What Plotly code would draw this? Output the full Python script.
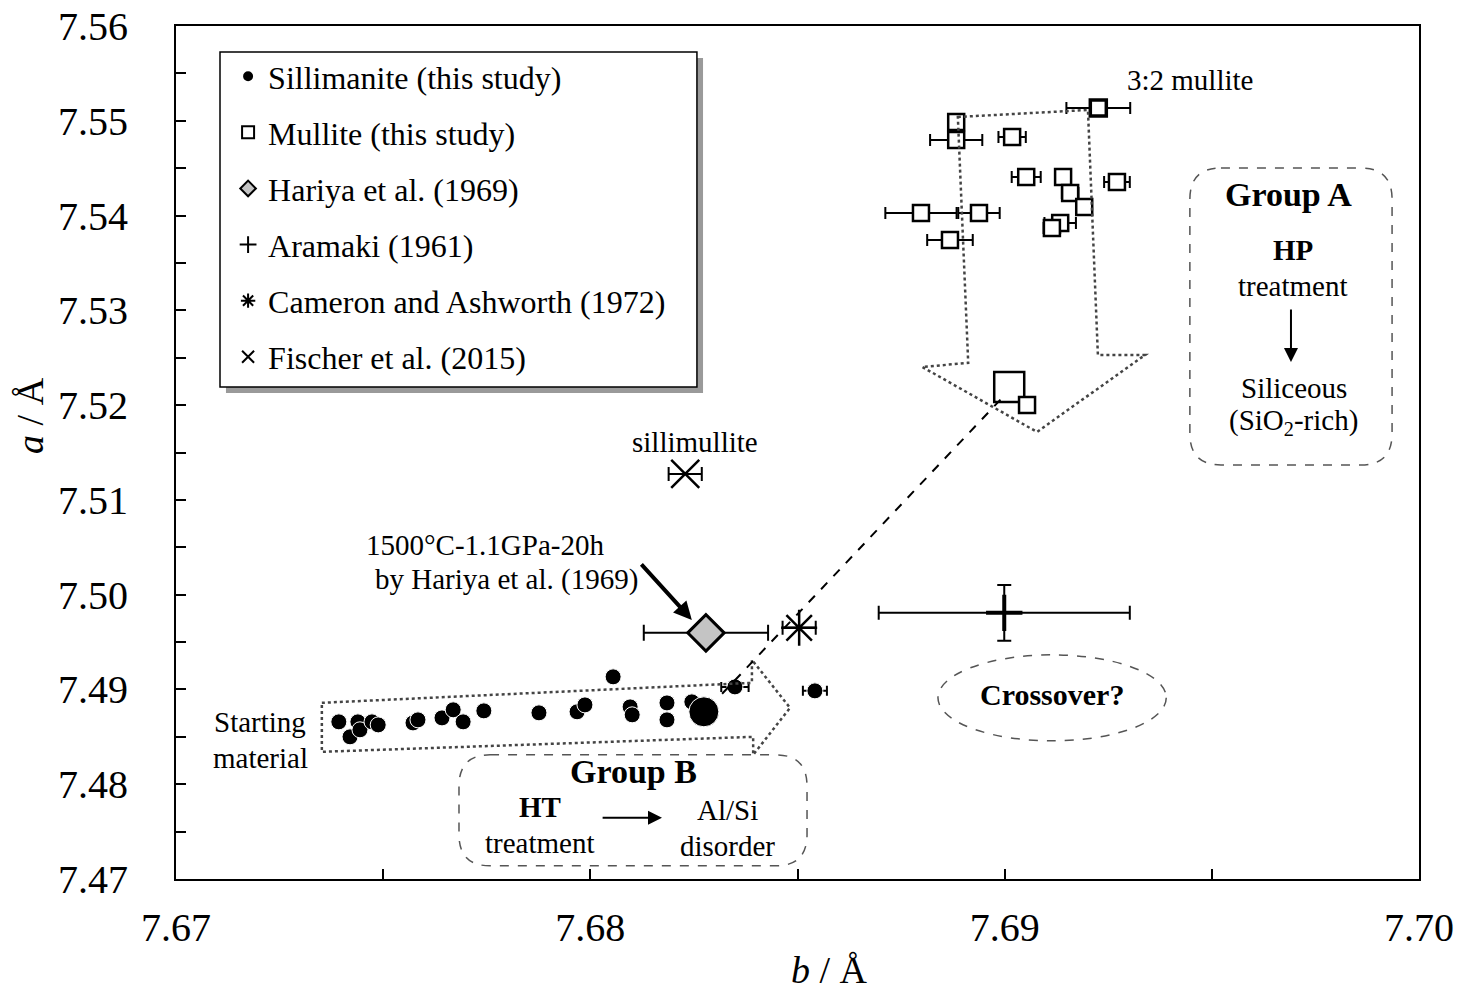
import plotly.graph_objects as go

# ---------------- data ----------------
# Sillimanite (this study): b, a (Å) and b uncertainty (None = not shown)
sill_b = [7.67393, 7.67420, 7.67439, 7.67444, 7.67473, 7.67488, 7.67572, 7.67584,
          7.67642, 7.67669, 7.67693, 7.67743, 7.67876, 7.67968, 7.67987, 7.68055,
          7.68096, 7.68101, 7.68185, 7.68185, 7.68245, 7.68274, 7.68349, 7.68542]
sill_a = [7.48658, 7.48500, 7.48658, 7.48574, 7.48658, 7.48626, 7.48647, 7.48679,
          7.48700, 7.48785, 7.48658, 7.48774, 7.48753, 7.48764, 7.48837, 7.49133,
          7.48816, 7.48732, 7.48858, 7.48679, 7.48869, 7.48764, 7.49027, 7.48985]
sill_err_b = [None] * 22 + [0.00033, 0.00029]
sill_is_start = [False] * 21 + [True, False, False]   # starting material (large symbol)

# Mullite (this study)
mull_b = [7.69226, 7.68883, 7.68883, 7.69018, 7.69052, 7.69141, 7.69158, 7.69192,
          7.69271, 7.68798, 7.68938, 7.68868, 7.69134, 7.69114, 7.69011, 7.69054]
mull_a = [7.55135, 7.54987, 7.54797, 7.54829, 7.54407, 7.54407, 7.54238, 7.54091,
          7.54354, 7.54027, 7.54027, 7.53743, 7.53922, 7.53869, 7.52192, 7.52002]
mull_err_b = [0.00077, 0.00012, 0.00063, 0.00033, 0.00035, None, 0.0002, None,
              0.00031, 0.00086, 0.0005, 0.00055, 0.00038, 0.0002, None, None]
mull_is_32 = [True] + [False] * 15                     # 3:2 mullite reference
mull_is_large = [False] * 14 + [True, False]

# Literature values
hariya_b, hariya_a, hariya_err_b = [7.68279], [7.49597], [0.0015]
aramaki_b, aramaki_a = [7.68999], [7.49808]
aramaki_err_b, aramaki_err_a = [0.00303], [0.00295]
cameron_b, cameron_a, cameron_err_b = [7.68504], [7.49650], [0.0004]
fischer_b, fischer_a, fischer_err_b = [7.68229], [7.51274], [0.0004]

# Axis ticks
x_tickvals = [7.670, 7.675, 7.680, 7.685, 7.690, 7.695, 7.700]
x_ticktext = ["7.67", "", "7.68", "", "7.69", "", "7.70"]
y_tickvals = [7.470, 7.475, 7.480, 7.485, 7.490, 7.495, 7.500, 7.505, 7.510,
              7.515, 7.520, 7.525, 7.530, 7.535, 7.540, 7.545, 7.550, 7.555, 7.560]
y_ticktext = ["7.47", "", "7.48", "", "7.49", "", "7.50", "", "7.51", "",
              "7.52", "", "7.53", "", "7.54", "", "7.55", "", "7.56"]

SERIF = "Liberation Serif, Times New Roman, serif"

fig = go.Figure()

fig.add_trace(go.Scatter(
    x=sill_b, y=sill_a, mode="markers", name="Sillimanite (this study)",
    legendgroup="g1",
    marker=dict(symbol="circle", color="black", opacity=1,
                size=[30 if s else 16 for s in sill_is_start]),
    error_x=dict(type="data", array=sill_err_b, color="black", thickness=2, width=5),
))
fig.add_trace(go.Scatter(
    x=mull_b, y=mull_a, mode="markers", name="Mullite (this study)",
    legendgroup="g2",
    marker=dict(symbol="square", color="white", opacity=1,
                size=[30 if big else 16 for big in mull_is_large],
                line=dict(color="black", width=[3.5 if m else 2.5 for m in mull_is_32])),
    error_x=dict(type="data", array=mull_err_b, color="black", thickness=2, width=6),
))
fig.add_trace(go.Scatter(
    x=hariya_b, y=hariya_a, mode="markers", name="Hariya et al. (1969)",
    legendgroup="g3",
    marker=dict(symbol="diamond", color="#c4c4c4", size=28, opacity=1,
                line=dict(color="black", width=3)),
    error_x=dict(type="data", array=hariya_err_b, color="black", thickness=2, width=8),
))
fig.add_trace(go.Scatter(
    x=aramaki_b, y=aramaki_a, mode="markers", name="Aramaki (1961)",
    legendgroup="g4",
    marker=dict(symbol="cross-thin-open", color="black", size=26, opacity=1,
                line=dict(color="black", width=4)),
    error_x=dict(type="data", array=aramaki_err_b, color="black", thickness=2, width=7),
    error_y=dict(type="data", array=aramaki_err_a, color="black", thickness=2, width=7),
))
fig.add_trace(go.Scatter(
    x=cameron_b, y=cameron_a, mode="markers", name="Cameron and Ashworth (1972)",
    legendgroup="g5",
    marker=dict(symbol="asterisk-open", color="black", size=30, opacity=1,
                line=dict(color="black", width=2.5)),
    error_x=dict(type="data", array=cameron_err_b, color="black", thickness=2, width=7),
))
fig.add_trace(go.Scatter(
    x=fischer_b, y=fischer_a, mode="markers", name="Fischer et al. (2015)",
    legendgroup="g6",
    marker=dict(symbol="x-thin-open", color="black", size=28, opacity=1,
                line=dict(color="black", width=2.5)),
    error_x=dict(type="data", array=fischer_err_b, color="black", thickness=2, width=7),
))


def rounded_rect(x0, x1, y0, y1, rx, ry):
    """SVG path of a rounded rectangle in data units."""
    return (f"M {x0+rx},{y1} L {x1-rx},{y1} Q {x1},{y1} {x1},{y1-ry} "
            f"L {x1},{y0+ry} Q {x1},{y0} {x1-rx},{y0} "
            f"L {x0+rx},{y0} Q {x0},{y0} {x0},{y0+ry} "
            f"L {x0},{y1-ry} Q {x0},{y1} {x0+rx},{y1} Z")


def poly(points):
    return "M " + " L ".join(f"{x},{y}" for x, y in points) + " Z"


GUIDE = dict(color="#444", width=2.5, dash="dot")
BOX = dict(color="#555", width=1.5, dash="dash")

shapes = [
    # legend frame with drop shadow
    dict(type="rect", xref="paper", yref="paper", x0=0.0402, x1=0.424, y0=0.5698, y1=0.9625,
         fillcolor="#9a9a9a", line=dict(width=0), layer="below"),
    dict(type="rect", xref="paper", yref="paper", x0=0.0354, x1=0.4191, y0=0.5768, y1=0.9695,
         fillcolor="white", line=dict(color="black", width=1.5), layer="below"),
    # block arrow: Group B trend (heat treatment)
    dict(type="path", xref="x", yref="y", line=GUIDE, path=poly([
        (7.67352, 7.48859), (7.68390, 7.49070), (7.68390, 7.49312), (7.68482, 7.48806),
        (7.68393, 7.48310), (7.68393, 7.48500), (7.67352, 7.48342)])),
    # block arrow: Group A trend (pressure treatment)
    dict(type="path", xref="x", yref="y", line=GUIDE, path=poly([
        (7.68887, 7.55040), (7.69201, 7.55114), (7.69225, 7.52529), (7.69339, 7.52529),
        (7.69078, 7.51717), (7.68801, 7.52403), (7.68912, 7.52445)])),
    # link between the two groups
    dict(type="line", xref="x", yref="y", x0=7.68318, y0=7.48954, x1=7.68996, y1=7.52086,
         line=dict(color="black", width=2, dash="dash")),
    # "Crossover?" region
    dict(type="circle", xref="x", yref="y", x0=7.68839, x1=7.69390, y0=7.48458, y1=7.49365,
         line=BOX),
    # Group A / Group B boxes
    dict(type="path", xref="x", yref="y", line=BOX,
         path=rounded_rect(7.69447, 7.69935, 7.51369, 7.54502, 0.00075, 0.0033)),
    dict(type="path", xref="x", yref="y", line=BOX,
         path=rounded_rect(7.67683, 7.68523, 7.47139, 7.48310, 0.00075, 0.0033)),
]


def label(x, y, text, size=29, bold=False):
    return dict(x=x, y=y, xref="x", yref="y", text=f"<b>{text}</b>" if bold else text,
                showarrow=False, xanchor="center", yanchor="middle",
                font=dict(family=SERIF, size=size, color="black"))


def arrow(x, y, ax, ay, width=2, size=1.4):
    return dict(x=x, y=y, ax=ax, ay=ay, xref="x", yref="y", axref="x", ayref="y",
                text="", showarrow=True, arrowhead=2, arrowsize=size,
                arrowwidth=width, arrowcolor="black")


annotations = [
    label(7.69447, 7.55430, "3:2 mullite"),
    label(7.68253, 7.51612, "sillimullite"),
    label(7.67746, 7.50525, "1500°C-1.1GPa-20h"),
    label(7.67797, 7.50156, "by Hariya et al. (1969)"),
    arrow(7.68245, 7.49734, 7.68120, 7.50335, width=4, size=0.9),
    label(7.67203, 7.48658, "Starting"),
    label(7.67203, 7.48278, "material"),
    label(7.69114, 7.48943, "Crossover?", size=30, bold=True),
    label(7.69686, 7.54217, "Group A", size=34, bold=True),
    label(7.69696, 7.53637, "HP", size=29, bold=True),
    label(7.69696, 7.53257, "treatment"),
    arrow(7.69691, 7.52456, 7.69691, 7.53025),
    label(7.69698, 7.52181, "Siliceous"),
    label(7.69698, 7.51823, "(SiO<sub>2</sub>-rich)"),
    label(7.68105, 7.48131, "Group B", size=34, bold=True),
    label(7.67879, 7.47762, "HT", size=29, bold=True),
    label(7.67879, 7.47382, "treatment"),
    arrow(7.68173, 7.47645, 7.68026, 7.47645),
    label(7.68330, 7.47730, "Al/Si"),
    label(7.68330, 7.47350, "disorder"),
    # axis titles
    dict(x=-0.1175, y=0.544, xref="paper", yref="paper", text="<i>a</i> / Å",
         showarrow=False, textangle=-90, xanchor="center", yanchor="middle",
         font=dict(family=SERIF, size=38, color="black")),
    dict(x=0.526, y=-0.1067, xref="paper", yref="paper", text="<i>b</i> / Å",
         showarrow=False, xanchor="center", yanchor="middle",
         font=dict(family=SERIF, size=38, color="black")),
]

axis_common = dict(showgrid=False, zeroline=False, showline=True, linecolor="black",
                   linewidth=2, mirror=True, ticks="inside", ticklen=10, tickwidth=1.5,
                   tickcolor="black", tickmode="array", automargin=False,
                   tickfont=dict(family=SERIF, size=40, color="black"))

fig.update_layout(
    width=1468, height=994,
    margin=dict(l=176, r=49, t=26, b=115),
    paper_bgcolor="white", plot_bgcolor="white",
    xaxis=dict(range=[7.67, 7.70], tickvals=x_tickvals, ticktext=x_ticktext,
               ticklabelstandoff=12, **axis_common),
    yaxis=dict(range=[7.47, 7.56], tickvals=y_tickvals, ticktext=y_ticktext,
               ticklabelstandoff=38, **axis_common),
    showlegend=True,
    legend=dict(x=0.0419, y=0.9731, xanchor="left", yanchor="top",
                bgcolor="rgba(0,0,0,0)", borderwidth=0, itemsizing="constant",
                tracegroupgap=11.5, font=dict(family=SERIF, size=32, color="black")),
    shapes=shapes,
    annotations=annotations,
)

fig.write_html("out.html")
